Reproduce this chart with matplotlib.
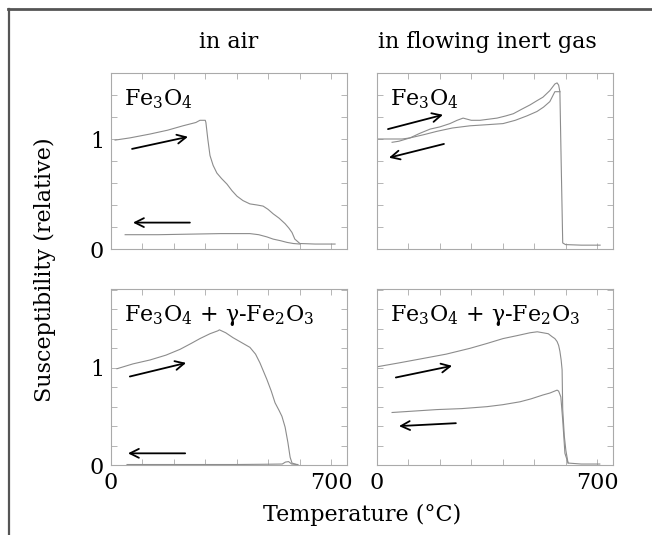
#Thermomagnetic curves of magnetite, heating/cooling in air and in inert gas
import numpy as np
import matplotlib.pyplot as plt
from matplotlib.lines import Line2D

plt.rcParams['font.family'] = ['DejaVu Serif']
plt.rcParams['mathtext.default'] = 'regular'

# ---- data (temperature in C, relative susceptibility) ----
# top left: Fe3O4 in air
air1_heat_T = [13, 60, 124, 180, 229, 270, 283, 300, 302, 308, 315, 325, 337, 352, 369, 385, 401, 420, 442, 465, 484, 500, 516, 535, 554, 566, 576, 585, 601, 650, 713]
air1_heat_k = [0.99, 1.01, 1.045, 1.08, 1.12, 1.15, 1.17, 1.17, 1.15, 1.0, 0.85, 0.76, 0.69, 0.64, 0.59, 0.53, 0.48, 0.44, 0.41, 0.40, 0.39, 0.36, 0.32, 0.28, 0.23, 0.19, 0.15, 0.09, 0.05, 0.045, 0.045]
air1_cool_T = [601, 580, 560, 540, 516, 496, 470, 442, 350, 250, 150, 45]
air1_cool_k = [0.045, 0.05, 0.06, 0.075, 0.09, 0.11, 0.13, 0.14, 0.14, 0.135, 0.13, 0.13]

# top right: Fe3O4 in inert gas
gas1_heat_T = [0, 51, 80, 105, 135, 169, 200, 232, 255, 274, 300, 328, 355, 382, 410, 434, 460, 487, 510, 528, 550, 566, 573, 578, 582, 586, 591, 600, 650, 710]
gas1_heat_k = [1.0, 1.0, 1.0, 1.01, 1.05, 1.09, 1.11, 1.14, 1.17, 1.19, 1.17, 1.17, 1.18, 1.19, 1.21, 1.23, 1.27, 1.31, 1.35, 1.38, 1.44, 1.5, 1.51, 1.49, 1.43, 0.8, 0.055, 0.04, 0.035, 0.035]
gas1_cool_T = [582, 566, 550, 530, 509, 477, 440, 401, 350, 296, 240, 191, 150, 105, 70, 48]
gas1_cool_k = [1.43, 1.43, 1.34, 1.29, 1.25, 1.21, 1.17, 1.14, 1.13, 1.12, 1.10, 1.07, 1.04, 1.01, 0.98, 0.97]

# bottom left: Fe3O4 + g-Fe2O3 in air
air2_heat_T = [19, 70, 124, 175, 220, 255, 283, 315, 340, 345, 365, 388, 415, 442, 460, 474, 496, 510, 522, 535, 544, 554, 563, 570, 576, 590]
air2_heat_k = [0.99, 1.04, 1.08, 1.13, 1.19, 1.25, 1.30, 1.35, 1.38, 1.39, 1.36, 1.31, 1.26, 1.21, 1.14, 1.05, 0.88, 0.76, 0.64, 0.56, 0.50, 0.39, 0.23, 0.08, 0.02, 0.005]
air2_cool_T = [595, 575, 565, 555, 545, 500, 400, 300, 200, 100, 51]
air2_cool_k = [0.005, 0.01, 0.035, 0.03, 0.01, 0.008, 0.005, 0.005, 0.005, 0.005, 0.005]

# bottom right: Fe3O4 + g-Fe2O3 in inert gas
gas2_heat_T = [0, 70, 137, 220, 296, 350, 401, 445, 487, 510, 528, 545, 557, 566, 573, 578, 582, 586, 589, 591, 596, 601, 608, 650, 709]
gas2_heat_k = [1.01, 1.05, 1.09, 1.14, 1.20, 1.25, 1.30, 1.33, 1.36, 1.37, 1.36, 1.35, 1.32, 1.30, 1.27, 1.23, 1.17, 1.08, 0.98, 0.57, 0.30, 0.15, 0.02, 0.01, 0.01]
gas2_cool_T = [608, 598, 591, 585, 578, 573, 550, 528, 490, 455, 400, 350, 270, 191, 48]
gas2_cool_k = [0.02, 0.12, 0.46, 0.70, 0.76, 0.77, 0.74, 0.72, 0.68, 0.65, 0.62, 0.60, 0.58, 0.57, 0.54]

# arrows: (T start, k start, T end, k end)
air1_arrows = [(67, 0.91, 245, 1.02), (251, 0.24, 70, 0.24)]
gas1_arrows = [(35, 1.09, 210, 1.22), (213, 0.955, 38, 0.83)]
air2_arrows = [(60, 0.91, 239, 1.05), (236, 0.12, 54, 0.12)]
gas2_arrows = [(60, 0.90, 239, 1.02), (251, 0.43, 70, 0.40)]

labels = ['$Fe_3O_4$', '$Fe_3O_4$', '$Fe_3O_4$ + γ-$Fe_2O_3$', '$Fe_3O_4$ + γ-$Fe_2O_3$']
col_titles = ['in air', 'in flowing inert gas']
xtick_labels = ['0', '', '', '', '', '', '', '700']

fig = plt.figure(figsize=(6.52, 5.35), dpi=100)

W = 236/652.
H = 176/535.
lefts = [111/652., 377/652.]
bottoms = [1-249/535., 1-465/535.]

panels = [
    (air1_heat_T, air1_heat_k, air1_cool_T, air1_cool_k, air1_arrows),
    (gas1_heat_T, gas1_heat_k, gas1_cool_T, gas1_cool_k, gas1_arrows),
    (air2_heat_T, air2_heat_k, air2_cool_T, air2_cool_k, air2_arrows),
    (gas2_heat_T, gas2_heat_k, gas2_cool_T, gas2_cool_k, gas2_arrows),
]

gray = '#8c8c8c'
for n, (hT, hk, cT, ck, arr) in enumerate(panels):
    row, col = n // 2, n % 2
    ax = fig.add_axes([lefts[col], bottoms[row], W, H])
    ax.plot(hT, hk, color=gray, lw=0.8)
    ax.plot(cT, ck, color=gray, lw=0.8)
    for (x0, y0, x1, y1) in arr:
        ax.annotate('', xy=(x1, y1), xytext=(x0, y0),
                    arrowprops=dict(arrowstyle='->', color='k', lw=1.3,
                                    mutation_scale=16, shrinkA=0, shrinkB=0))
    ax.set_xlim(0, 751)
    if row == 0:
        ax.set_ylim(0, 1.59)
        yt = np.arange(0, 1.61, 0.2)
    else:
        ax.set_ylim(0, 1.81)
        yt = np.arange(0, 1.81, 0.2)
    ax.set_xticks(range(0, 701, 100))
    ax.set_yticks(yt)
    if row == 1:
        ax.set_xticklabels(xtick_labels)
    else:
        ax.set_xticklabels([])
    if col == 0:
        ax.set_yticklabels(['0', '', '', '', '', '1'] + [''] * (len(yt) - 6))
    else:
        ax.set_yticklabels([])
    ax.tick_params(direction='in', top=True, right=True, length=4, width=0.6,
                   color='#aaaaaa', labelsize=16, pad=5)
    for s in ax.spines.values():
        s.set_color('#aaaaaa')
        s.set_linewidth(0.8)
    ax.text(0.055, 0.92, labels[n], transform=ax.transAxes, fontsize=16,
            va='top', ha='left')

fig.text(229/652., 1-42/535., col_titles[0], fontsize=16, ha='center', va='center')
fig.text(487/652., 1-42/535., col_titles[1], fontsize=16, ha='center', va='center')
fig.text(45/652., 1-270/535., 'Susceptibility (relative)', fontsize=16,
         rotation=90, ha='center', va='center')
fig.text(362/652., 1-515/535., 'Temperature (°C)', fontsize=16, ha='center', va='center')

# frame around the figure (top and left edges)
fig.add_artist(Line2D([8/652., 1], [1-8.5/535., 1-8.5/535.], color='#555555', lw=2))
fig.add_artist(Line2D([9/652., 9/652.], [0, 1-8.5/535.], color='#555555', lw=1.6))

plt.savefig('out.png', dpi=100)
